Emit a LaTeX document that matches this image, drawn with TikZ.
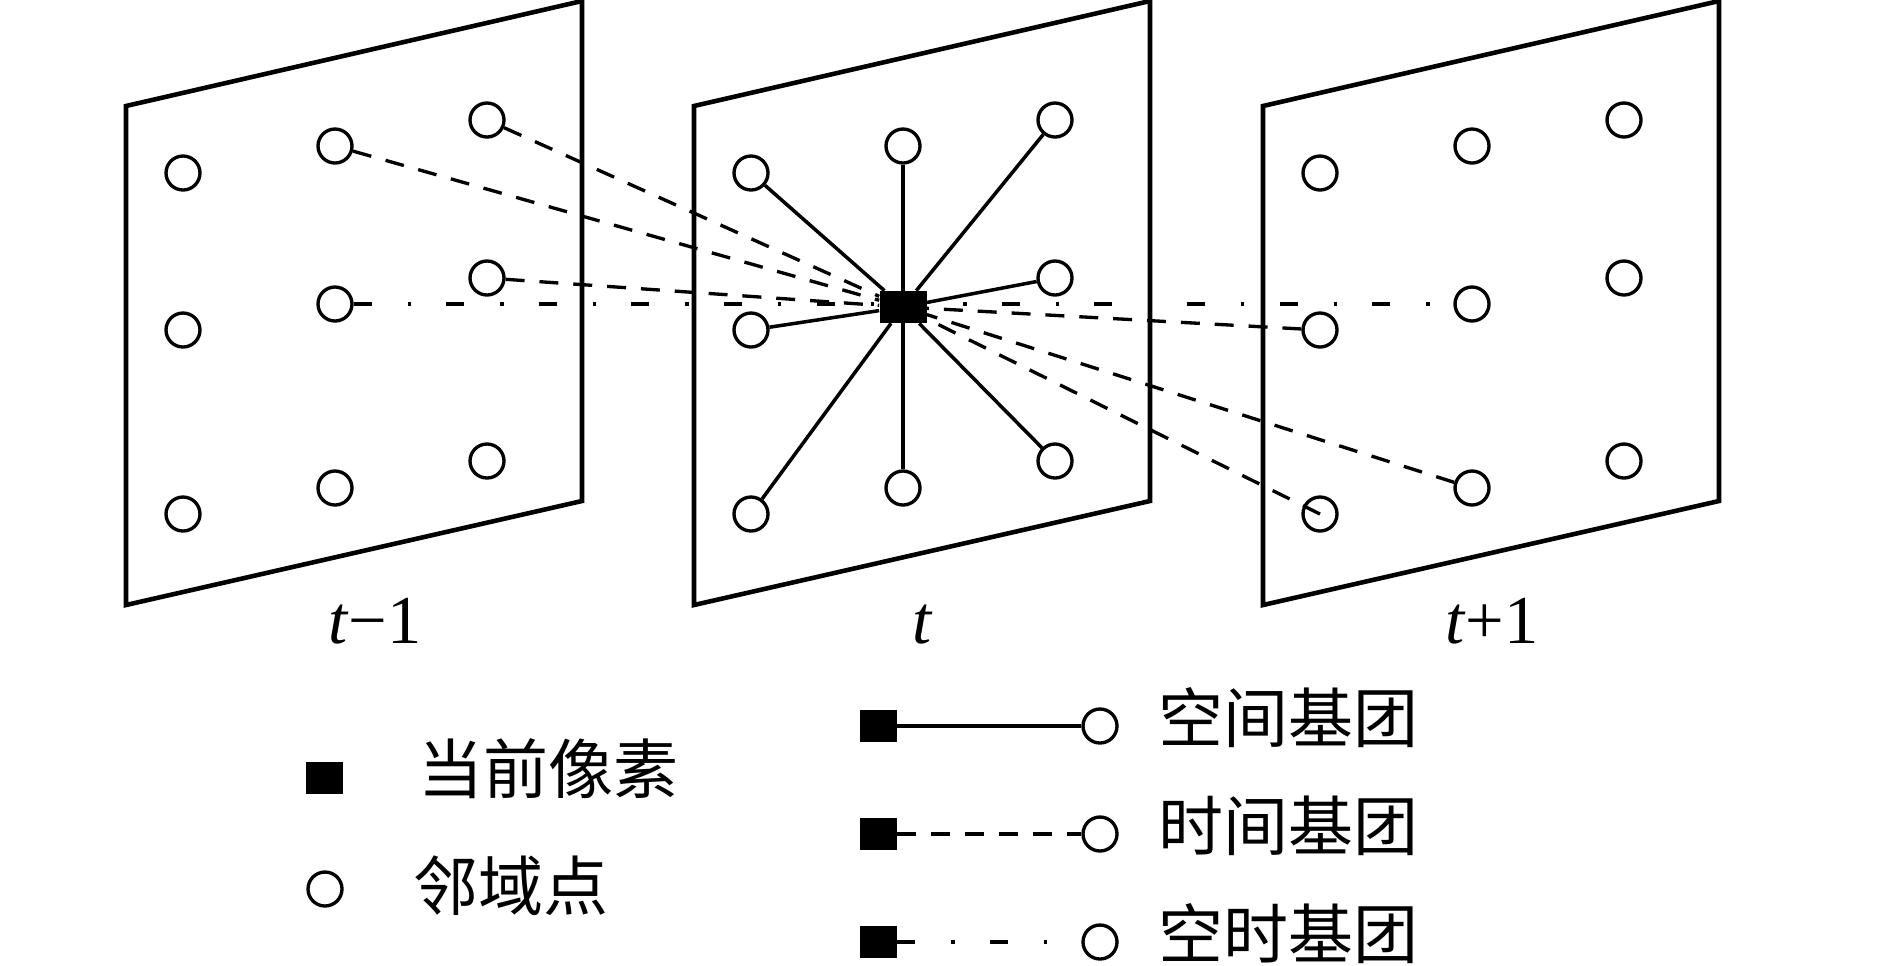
\documentclass[tikz,border=0pt]{standalone}
\usepackage{fontspec}
\setmainfont{Liberation Serif}
\newfontfamily\cjk{Noto Sans CJK SC}

\begin{document}
\begin{tikzpicture}[
    x=0.02cm, y=-0.02cm,
    panel/.style={line width=2.6pt, line join=miter},
    nbr/.style={circle, draw, line width=1.9pt, minimum size=0.68cm, inner sep=0pt},
    pix/.style={rectangle, fill=black, minimum width=0.94cm, minimum height=0.64cm, inner sep=0pt},
    keysq/.style={rectangle, fill=black, minimum width=0.74cm, minimum height=0.64cm, inner sep=0pt},
    spatial/.style={line width=2pt},
    temporal/.style={line width=1.9pt, dash pattern=on 10.8pt off 8.5pt},
    spatiotemp/.style={line width=1.9pt, dash pattern=on 10.2pt off 20.5pt on 2pt off 20pt},
    framelabel/.style={font=\fontsize{39}{46}\selectfont, anchor=base, inner sep=0pt},
    keytext/.style={font=\cjk\fontsize{37}{44}\selectfont, anchor=west, inner sep=0pt}
]
\useasboundingbox (0,0) rectangle (1889,965);

\def\pw{456}

% three frames t-1, t, t+1
\foreach \pn/\xo/\lx/\lbl in {a/126/375/\textit{t}−1, b/694/923/\textit{t}, c/1263/1492/\textit{t}+1} {
    \draw[panel] (\xo,106) -- (\xo+\pw,1) -- (\xo+\pw,501) -- (\xo,605) -- cycle;
    \foreach \c/\dx/\ya/\yc in {1/57/173/514, 2/209/146/488, 3/361/120/461} {
        \node[nbr] (\pn1\c) at (\xo+\dx,\ya) {};
        \node[nbr] (\pn3\c) at (\xo+\dx,\yc) {};
    }
    \node[nbr] (\pn21) at (\xo+57,330) {};
    \node[nbr] (\pn23) at (\xo+361,278) {};
    \node[framelabel] (lbl\pn) at (\lx,643) {\lbl};
}
\node[nbr] (a22) at (335,304) {};
\node[nbr] (c22) at (1472,304) {};
\node[pix] (b22) at (903,307) {};

% cliques of the current pixel
\foreach \n in {b11,b12,b13,b21,b23,b31,b32,b33}
    \draw[spatial] (b22) -- (\n);
\foreach \n in {a12,a13,a23,c21,c32}
    \draw[temporal] (\n) -- (b22);
\draw[temporal] (c31.center) -- (b22);
\draw[spatiotemp] (a22) -- (c22);

% legend
\node[keysq] (kpix) at (324.5,777.5) {};
\node[keytext] (tpix) at (418,769) {当前像素};
\node[nbr] (knbr) at (325,889) {};
\node[keytext] (tnbr) at (413,886) {邻域点};

\foreach \i/\yy/\sty/\lbl in {1/726/spatial/空间基团, 2/834/temporal/时间基团, 3/942/spatiotemp/空时基团} {
    \node[keysq] (s\i) at (878.5,\yy) {};
    \node[nbr] (e\i) at (1100,\yy) {};
    \draw[\sty] (s\i) -- (e\i);
    \node[keytext] (l\i) at (1158,\yy-8) {\lbl};
}

\end{tikzpicture}
\end{document}
